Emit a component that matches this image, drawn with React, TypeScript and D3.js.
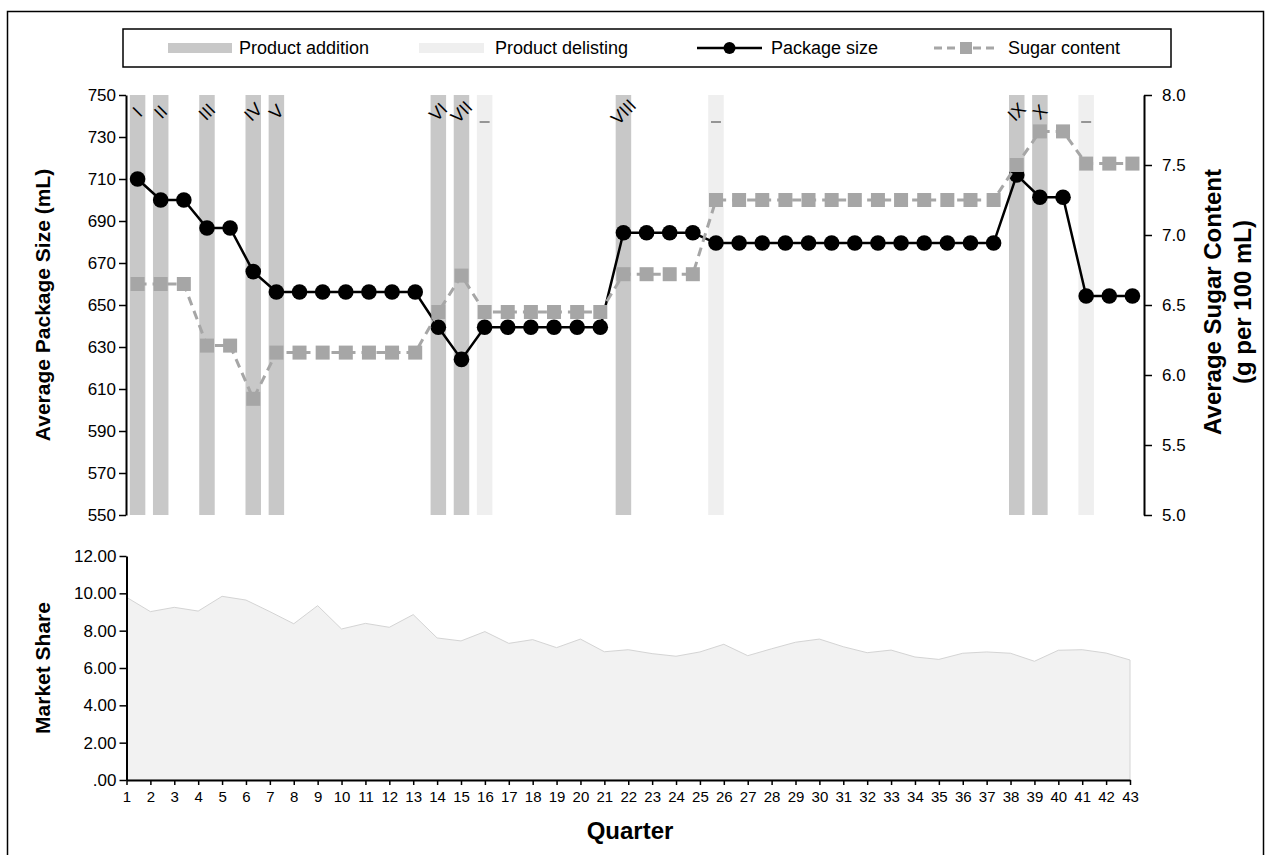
import * as d3 from 'd3';
import React, { useRef, useEffect } from 'react';

// top panel periods (44 points in the upper chart)
const periods = d3.range(1, 45);
const packageSize = [
  710, 700, 700, 686.7, 686.7, 665.9, 656.2, 656.2, 656.2, 656.2, 656.2, 656.2, 656.2,
  639.4, 624.1, 639.4, 639.4, 639.4, 639.4, 639.4, 639.4,
  684.4, 684.4, 684.4, 684.4,
  679.5, 679.5, 679.5, 679.5, 679.5, 679.5, 679.5, 679.5, 679.5, 679.5, 679.5, 679.5, 679.5,
  711.9, 701.3, 701.3, 654.3, 654.3, 654.3,
];
const sugarContent = [
  6.65, 6.65, 6.65, 6.21, 6.21, 5.83, 6.16, 6.16, 6.16, 6.16, 6.16, 6.16, 6.16,
  6.45, 6.71, 6.45, 6.45, 6.45, 6.45, 6.45, 6.45,
  6.72, 6.72, 6.72, 6.72,
  7.25, 7.25, 7.25, 7.25, 7.25, 7.25, 7.25, 7.25, 7.25, 7.25, 7.25, 7.25, 7.25,
  7.5, 7.74, 7.74, 7.51, 7.51, 7.51,
];
const additionPeriods = [1, 2, 4, 6, 7, 14, 15, 22, 39, 40];
const additionLabels = ['I', 'II', 'III', 'IV', 'V', 'VI', 'VII', 'VIII', 'IX', 'X'];
const delistingPeriods = [16, 26, 42];

// bottom panel
const quarters = d3.range(1, 44);
const marketShare = [
  9.79, 9.02, 9.25, 9.05, 9.84, 9.64, 9.02, 8.37, 9.34, 8.09, 8.39, 8.18, 8.86, 7.61, 7.45,
  7.95, 7.32, 7.52, 7.09, 7.55, 6.87, 6.98, 6.77, 6.63, 6.86, 7.27, 6.66, 7.03, 7.38, 7.55,
  7.14, 6.82, 6.96, 6.59, 6.46, 6.79, 6.86, 6.79, 6.36, 6.95, 6.98, 6.80, 6.43,
];

const sizeTicks = d3.range(550, 751, 20);
const sugarTicks = d3.range(5, 8.01, 0.5);
const shareTicks = d3.range(0, 12.01, 2);

const FONT = '"Liberation Sans", Arial, sans-serif';

function App() {
  const ref = useRef<SVGSVGElement>(null);

  useEffect(() => {
    draw();
  }, []);

  const draw = () => {
    const svg = d3.select(ref.current);
    svg.selectAll('*').remove();

    // frame
    svg.append('rect')
      .attr('x', 7.5).attr('y', 11.5)
      .attr('width', 1256).attr('height', 870)
      .attr('fill', 'none').attr('stroke', '#000').attr('stroke-width', 1.5);

    // Scales - top
    const x = d3.scaleBand<number>()
      .domain(periods)
      .range([126, 1144])
      .padding(0);
    const cx = (p: number) => (x(p) as number) + x.bandwidth() / 2;
    const barW = x.bandwidth() * 0.67;

    const yL = d3.scaleLinear().domain([550, 750]).range([515, 95]);
    const yR = d3.scaleLinear().domain([5, 8]).range([515, 95]);

    // Bars
    svg.append('g').selectAll('rect')
      .data(delistingPeriods)
      .enter().append('rect')
      .attr('x', d => cx(d) - barW / 2)
      .attr('y', yL(750))
      .attr('width', barW)
      .attr('height', yL(550) - yL(750))
      .attr('fill', '#efefef');

    svg.append('g').selectAll('rect')
      .data(additionPeriods)
      .enter().append('rect')
      .attr('x', d => cx(d) - barW / 2)
      .attr('y', yL(750))
      .attr('width', barW)
      .attr('height', yL(550) - yL(750))
      .attr('fill', '#c8c8c8');

    // bar labels
    svg.append('g').selectAll('text')
      .data(additionPeriods)
      .enter().append('text')
      .attr('transform', d => `translate(${cx(d)},112) rotate(-45)`)
      .attr('text-anchor', 'middle')
      .attr('dominant-baseline', 'central')
      .style('font-family', FONT)
      .style('font-size', '18px')
      .text((d, i) => additionLabels[i]);

    svg.append('g').selectAll('line')
      .data(delistingPeriods)
      .enter().append('line')
      .attr('x1', d => cx(d) - 5)
      .attr('x2', d => cx(d) + 5)
      .attr('y1', 122).attr('y2', 122)
      .attr('stroke', '#777').attr('stroke-width', 1.5);

    // package size line
    const pkgData = periods.map((p, i) => ({ p, v: packageSize[i] }));
    svg.append('path')
      .datum(pkgData)
      .attr('fill', 'none')
      .attr('stroke', '#000')
      .attr('stroke-width', 2.5)
      .attr('d', d3.line<any>().x(d => cx(d.p)).y(d => yL(d.v)));
    svg.append('g').selectAll('circle')
      .data(pkgData)
      .enter().append('circle')
      .attr('cx', d => cx(d.p))
      .attr('cy', d => yL(d.v))
      .attr('r', 7.8)
      .attr('fill', '#000');

    // sugar content line
    const sugData = periods.map((p, i) => ({ p, v: sugarContent[i] }));
    svg.append('path')
      .datum(sugData)
      .attr('fill', 'none')
      .attr('stroke', '#a6a6a6')
      .attr('stroke-width', 3)
      .attr('stroke-dasharray', '9,6')
      .attr('d', d3.line<any>().x(d => cx(d.p)).y(d => yR(d.v)));
    svg.append('g').selectAll('rect')
      .data(sugData)
      .enter().append('rect')
      .attr('x', d => cx(d.p) - 7)
      .attr('y', d => yR(d.v) - 7)
      .attr('width', 14).attr('height', 14)
      .attr('fill', '#a6a6a6');

    // axes - top
    const yAxisL = d3.axisLeft(yL).tickValues(sizeTicks).tickSize(7).tickPadding(3).tickSizeOuter(0);
    const gL = svg.append('g').attr('transform', 'translate(126,0)').call(yAxisL);
    const yAxisR = d3.axisRight(yR).tickValues(sugarTicks).tickFormat(d3.format('.1f')).tickSize(8).tickPadding(10).tickSizeOuter(0);
    const gR = svg.append('g').attr('transform', 'translate(1144,0)').call(yAxisR);

    // Scales - bottom
    const xq = d3.scalePoint<number>().domain(quarters).range([126.5, 1130]);
    const ys = d3.scaleLinear().domain([0, 12]).range([780, 556]);

    const shareData = quarters.map((q, i) => ({ q, v: marketShare[i] }));
    svg.append('path')
      .datum(shareData)
      .attr('fill', '#f2f2f2')
      .attr('stroke', '#d4d4d4')
      .attr('stroke-width', 1)
      .attr('d', d3.area<any>().x(d => xq(d.q) as number).y0(ys(0)).y1(d => ys(d.v)));

    const yAxisS = d3.axisLeft(ys).tickValues(shareTicks)
      .tickFormat((d: any) => (d === 0 ? '.00' : d3.format('.2f')(d)))
      .tickSize(7).tickPadding(3).tickSizeOuter(0);
    const gS = svg.append('g').attr('transform', 'translate(126.5,0)').call(yAxisS);
    const xAxisQ = d3.axisBottom(xq).tickSize(5).tickPadding(6).tickSizeOuter(0);
    const gQ = svg.append('g').attr('transform', `translate(0,${ys(0)})`).call(xAxisQ);

    [gL, gR, gS, gQ].forEach(g => {
      g.select('.domain').attr('stroke', '#000').attr('stroke-width', 2);
      g.selectAll('.tick line').attr('stroke', '#000').attr('stroke-width', 1.5);
      g.selectAll('text').style('font-family', FONT).style('font-size', '17px').attr('fill', '#000');
    });
    gQ.selectAll('text').style('font-size', '15px');

    // axis titles
    const title = (t: string, xx: number, yy: number, rot: boolean, size: number) =>
      svg.append('text')
        .attr('transform', `translate(${xx},${yy})${rot ? ' rotate(-90)' : ''}`)
        .attr('text-anchor', 'middle')
        .attr('dominant-baseline', 'central')
        .style('font-family', FONT)
        .style('font-size', `${size}px`)
        .style('font-weight', 'bold')
        .text(t);
    title('Average Package Size (mL)', 42, 305, true, 21);
    title('Average Sugar Content', 1212, 302, true, 24);
    title('(g per 100 mL)', 1242, 302, true, 24);
    title('Market Share', 42, 668, true, 21);
    title('Quarter', 630, 830, false, 24);

    // legend
    const lg = svg.append('g');
    lg.append('rect')
      .attr('x', 123).attr('y', 29).attr('width', 1048).attr('height', 38)
      .attr('fill', '#fff').attr('stroke', '#000').attr('stroke-width', 1.5);
    const ly = 48;
    lg.append('rect').attr('x', 168).attr('y', ly - 5).attr('width', 64).attr('height', 10).attr('fill', '#c8c8c8');
    lg.append('rect').attr('x', 419).attr('y', ly - 5).attr('width', 65).attr('height', 10).attr('fill', '#efefef');
    lg.append('line').attr('x1', 697).attr('x2', 762).attr('y1', ly).attr('y2', ly).attr('stroke', '#000').attr('stroke-width', 2.5);
    lg.append('circle').attr('cx', 729.5).attr('cy', ly).attr('r', 6).attr('fill', '#000');
    lg.append('line').attr('x1', 934).attr('x2', 999).attr('y1', ly).attr('y2', ly)
      .attr('stroke', '#a6a6a6').attr('stroke-width', 3).attr('stroke-dasharray', '8,5');
    lg.append('rect').attr('x', 960).attr('y', ly - 6).attr('width', 12).attr('height', 12).attr('fill', '#a6a6a6');
    const legendItems = [
      { t: 'Product addition', x: 239 },
      { t: 'Product delisting', x: 495 },
      { t: 'Package size', x: 771 },
      { t: 'Sugar content', x: 1008 },
    ];
    lg.selectAll('text.lt')
      .data(legendItems)
      .enter().append('text')
      .attr('class', 'lt')
      .attr('x', d => d.x)
      .attr('y', ly)
      .attr('dominant-baseline', 'central')
      .style('font-family', FONT)
      .style('font-size', '18px')
      .text(d => d.t);
  };

  return (
    <svg
      ref={ref}
      width={1270}
      height={855}
      style={{ position: 'absolute', left: 0, top: 0, background: '#fff' }}
    />
  );
}

export default App;
